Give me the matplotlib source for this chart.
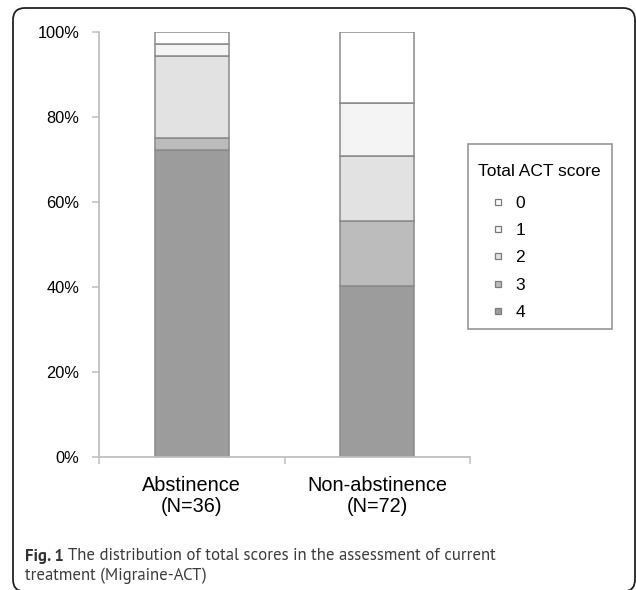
import matplotlib
matplotlib.use("Agg")
import matplotlib.pyplot as plt
from matplotlib.patches import FancyBboxPatch, Rectangle
from matplotlib.lines import Line2D
from matplotlib.transforms import IdentityTransform
from matplotlib import font_manager
from matplotlib.font_manager import FontProperties
import numpy as np

# ---- data (counts per score) ----
groups = ["Abstinence\n(N=36)", "Non-abstinence\n(N=72)"]
scores = ["0", "1", "2", "3", "4"]
counts_abstinence = [1, 1, 7, 1, 26]       # scores 0..4
counts_nonabstinence = [12, 9, 11, 11, 29]  # scores 0..4
score_colors = {"0": "#ffffff", "1": "#f4f4f4", "2": "#e2e2e2", "3": "#bcbcbc", "4": "#9c9c9c"}
yticks = [0, 20, 40, 60, 80, 100]
ytick_labels = ["0%", "20%", "40%", "60%", "80%", "100%"]
caption_bold = "Fig. 1"
caption_rest = " The distribution of total scores in the assessment of current"
caption_line2 = "treatment (Migraine-ACT)"
legend_title = "Total ACT score"

W, H = 636, 590
fig = plt.figure(figsize=(W / 100, H / 100), dpi=100)
fig.patch.set_facecolor("white")

ax = fig.add_axes([99 / W, 1 - 457 / H, 371 / W, 425 / H])

pct = {}
for g, counts in zip(groups, [counts_abstinence, counts_nonabstinence]):
    tot = sum(counts)
    pct[g] = {s: 100.0 * c / tot for s, c in zip(scores, counts)}

x = np.arange(len(groups))
bottom = np.zeros(len(groups))
edge = "#8a8a8a"
for s in reversed(scores):
    vals = np.array([pct[g][s] for g in groups])
    ax.bar(x, vals, width=0.40, bottom=bottom, color=score_colors[s],
           edgecolor=edge, linewidth=1.1, zorder=3)
    bottom += vals

ax.set_xlim(-0.5, len(groups) - 0.5)
ax.set_ylim(0, 100)
ax.set_yticks(yticks)
ax.set_yticklabels(ytick_labels, fontsize=11.8, family="Liberation Sans")
ax.set_xticks(x)
ax.set_xticklabels(groups, fontsize=14.3, family="Liberation Sans", linespacing=1.1)
ax.tick_params(axis="x", length=0, pad=14)
ax.set_xticks(np.arange(-0.5, len(groups)), minor=True)
ax.tick_params(axis="x", which="minor", length=5, width=1.1, color="#bfbfbf", direction="out")
ax.tick_params(axis="y", length=5, width=1.1, color="#bfbfbf", direction="out", pad=9)
for sp in ["top", "right"]:
    ax.spines[sp].set_visible(False)
for sp in ["left", "bottom"]:
    ax.spines[sp].set_color("#bfbfbf")
    ax.spines[sp].set_linewidth(1.3)
    ax.spines[sp].set_zorder(4)

# legend (content) + its box
leg_handles = [Line2D([], [], linestyle="none", marker="s", markersize=4.6,
                      markerfacecolor=score_colors[s], markeredgecolor="#7a7a7a",
                      markeredgewidth=0.9) for s in scores]
fs_leg = 12.5
fs_px = fs_leg * 100 / 72
leg = fig.legend(leg_handles, scores, title=legend_title, loc="upper left",
                 bbox_to_anchor=(478 / W, 1 - 164 / H), bbox_transform=fig.transFigure,
                 prop={"family": "Liberation Sans", "size": fs_leg},
                 title_fontproperties={"family": "Liberation Sans", "size": fs_leg},
                 frameon=False, handlelength=39 / fs_px, handletextpad=-0.1,
                 labelspacing=0.7, borderpad=0, borderaxespad=0, alignment="left")
leg._legend_box.sep = 12
fig.patches.append(Rectangle((468, H - 329), 144, 185, transform=IdentityTransform(),
                             facecolor="none", edgecolor="#8c8c8c", linewidth=1.1))

# caption font: prefer a Myriad-like humanist face (static Regular / Bold files)
def static_file(names, suffix):
    for n in names:
        for f in font_manager.fontManager.ttflist:
            fn = f.fname.split("/")[-1]
            if f.name == n and "[" not in fn and fn.endswith(suffix) and f.style == "normal":
                return f.fname
    return None

cands = ["Source Sans Pro", "Source Sans 3", "PT Sans", "Fira Sans", "Open Sans"]
reg_file = static_file(cands, "-Regular.ttf")
bold_file = static_file(cands, "-Bold.ttf")
fp_reg = FontProperties(fname=reg_file) if reg_file else FontProperties(family="Open Sans")
fp_bold = FontProperties(fname=bold_file) if bold_file else FontProperties(family="Open Sans", weight="bold")

fs_cap = 13.0
y1, y2 = 1 - 556 / H, 1 - 576 / H
t1 = fig.text(25 / W, y1, caption_bold, fontproperties=fp_bold, fontsize=fs_cap,
              color="#333333", va="center", ha="left")
t2 = fig.text(0, y1, caption_rest, fontproperties=fp_reg, fontsize=fs_cap,
              color="#3c3c3c", va="center", ha="left")
t3 = fig.text(25 / W, y2, caption_line2, fontproperties=fp_reg, fontsize=fs_cap,
              color="#3c3c3c", va="center", ha="left")
fig.canvas.draw()
r = fig.canvas.get_renderer()
w_total = t1.get_window_extent(r).width + t2.get_window_extent(r).width
scale = 467 / w_total
for t in (t1, t2, t3):
    t.set_fontsize(fs_cap * scale)
fig.canvas.draw()
t2.set_x(t1.get_window_extent(r).x1 / W)

# outer rounded frame (pixel coordinates)
frame = FancyBboxPatch((13, -1.5), 622, H - 8 + 1.5, boxstyle="round,pad=0,rounding_size=12",
                       transform=IdentityTransform(), facecolor="none",
                       edgecolor="#222222", linewidth=1.3, clip_on=False)
fig.patches.append(frame)

fig.savefig("out.png", dpi=100)
